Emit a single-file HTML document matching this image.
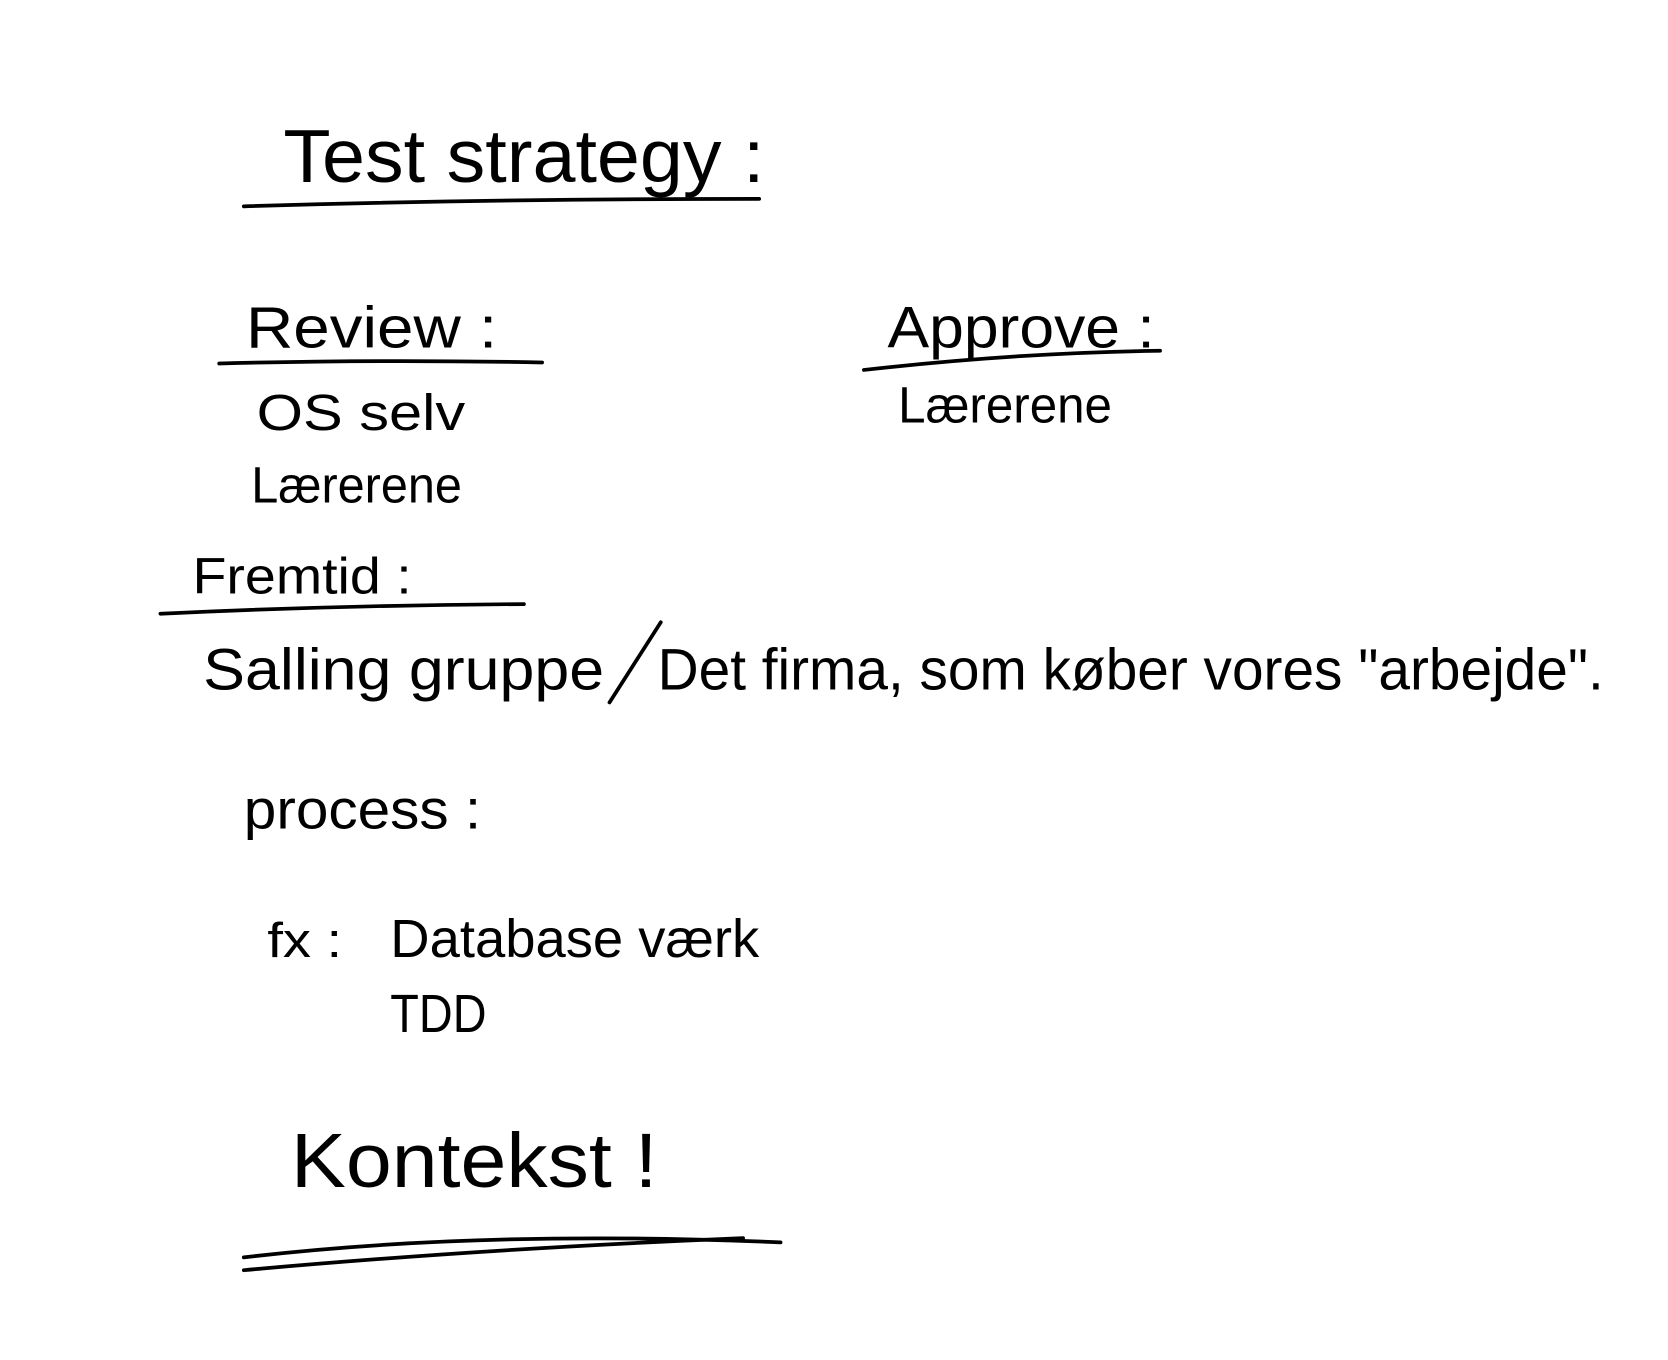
<!DOCTYPE html>
<html><head><meta charset="utf-8"><style>
html,body{margin:0;padding:0;background:#fff;width:1668px;height:1360px;overflow:hidden}
svg{display:block}
text{font-family:"Liberation Sans",sans-serif;fill:#000}
</style></head><body>
<svg width="1668" height="1360" viewBox="0 0 1560 1272" xmlns="http://www.w3.org/2000/svg">
<g fill="none" stroke="#000" stroke-width="3.5" stroke-linecap="round">
<path d="M228,193 Q450,186 710,186"/>
<path d="M205,340 Q350,336 507,339"/>
<path d="M808,346 Q950,330 1085,328"/>
<path d="M150,574 Q320,566 490,565"/>
<path d="M570,657 L618,582"/>
<path d="M228,1176 Q450,1150 730,1162"/>
<path d="M228,1188 Q450,1168 695,1158"/>
</g>
<text x="265" y="170" font-size="70" textLength="450" lengthAdjust="spacingAndGlyphs">Test  strategy :</text>
<text x="230" y="325" font-size="55" textLength="235" lengthAdjust="spacingAndGlyphs">Review :</text>
<text x="830" y="325" font-size="55" textLength="250" lengthAdjust="spacingAndGlyphs">Approve :</text>
<text x="240" y="402" font-size="48" textLength="195" lengthAdjust="spacingAndGlyphs">OS selv</text>
<text x="235" y="470" font-size="48" textLength="197" lengthAdjust="spacingAndGlyphs">Lærerene</text>
<text x="840" y="395" font-size="48" textLength="200" lengthAdjust="spacingAndGlyphs">Lærerene</text>
<text x="180" y="555" font-size="48" textLength="205" lengthAdjust="spacingAndGlyphs">Fremtid :</text>
<text x="190" y="645" font-size="55" textLength="375" lengthAdjust="spacingAndGlyphs">Salling gruppe</text>
<text x="615" y="645" font-size="55" textLength="885" lengthAdjust="spacingAndGlyphs">Det firma, som køber vores "arbejde".</text>
<text x="228" y="775" font-size="52" textLength="222" lengthAdjust="spacingAndGlyphs">process :</text>
<text x="250" y="895" font-size="46" textLength="70" lengthAdjust="spacingAndGlyphs">fx :</text>
<text x="365" y="895" font-size="50" textLength="345" lengthAdjust="spacingAndGlyphs">Database værk</text>
<text x="365" y="965" font-size="50" textLength="90" lengthAdjust="spacingAndGlyphs">TDD</text>
<text x="272" y="1110" font-size="72" textLength="343" lengthAdjust="spacingAndGlyphs">Kontekst !</text>
</svg>
</body></html>
